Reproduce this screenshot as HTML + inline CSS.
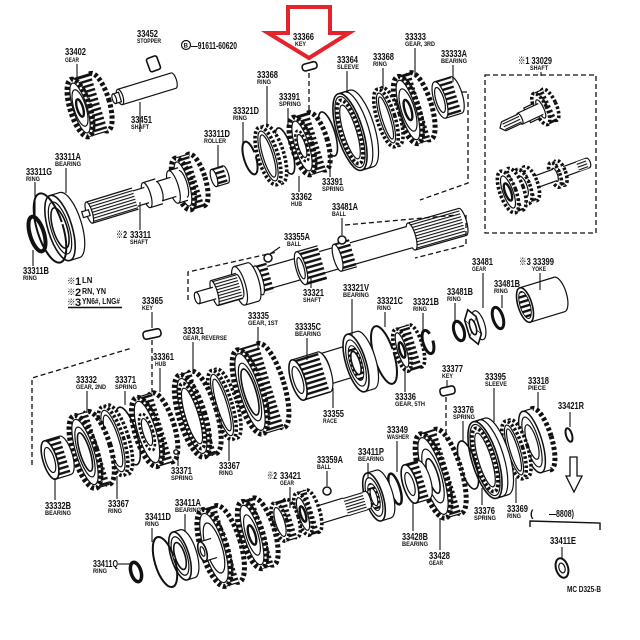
<!DOCTYPE html>
<html><head><meta charset="utf-8">
<style>
html,body{margin:0;padding:0;background:#fff}
svg{display:block}
text{font-family:"Liberation Sans","Noto Sans CJK JP",sans-serif;font-weight:bold;fill:#111}
.n{font-size:10.5px}
.s{font-size:6.8px}
.l{fill:none;stroke:#111;stroke-width:1.2}
.w{fill:#fff;stroke:#111;stroke-width:1.2}
.t{fill:#fff;stroke:#111;stroke-width:5;stroke-dasharray:3.2 2.3}
.t4{fill:#fff;stroke:#111;stroke-width:3.6;stroke-dasharray:2.6 2}
.k{fill:none;stroke:#111;stroke-width:2.4}
.d{fill:none;stroke:#111;stroke-width:1.3;stroke-dasharray:5 3}
.c{fill:url(#tp);stroke:none}
.sp{fill:url(#sp);stroke:none}
.r{fill:none;stroke:#111;stroke-width:2}
.ld{stroke:#111;stroke-width:1.1}
</style></head>
<body>
<svg width="640" height="640" viewBox="0 0 640 640" xmlns="http://www.w3.org/2000/svg">
<defs>
<pattern id="tp" width="8" height="5" patternUnits="userSpaceOnUse"><rect width="8" height="5" fill="#fff"/><rect width="8" height="2.4" fill="#111"/></pattern>
<pattern id="sp" width="8" height="3" patternUnits="userSpaceOnUse"><rect width="8" height="3" fill="#fff"/><rect width="8" height="1.1" fill="#111"/></pattern>
</defs>
<rect width="640" height="640" fill="#fff"/>

<!-- ============ TOP LEFT ============ -->
<g transform="translate(80,108) rotate(-17)"><ellipse cx="20" rx="10" ry="30" class="t"/><rect y="-30" width="20" height="60" class="c"/><path d="M0,-30H20M0,30H20" class="l"/><ellipse rx="10" ry="30" class="t"/><ellipse rx="7" ry="26" class="w"/><ellipse rx="6" ry="19" class="l"/><ellipse rx="3" ry="9" class="k"/></g>
<rect x="148" y="57" width="11" height="14" rx="2" class="w" transform="rotate(-20 153 64)" style="stroke-width:1.6"/>
<g transform="translate(120,97) rotate(-17)"><ellipse cx="56" rx="3" ry="8" class="w"/><rect width="56" y="-8" height="16" fill="#fff"/><path d="M0,-8H56M0,8H56" class="l"/><ellipse rx="3" ry="8" class="w"/><rect x="-6" y="-5" width="6" height="10" class="w"/><ellipse cx="-6" rx="2" ry="5" class="w"/></g>

<g transform="translate(214,178) rotate(-17)"><ellipse cx="12" rx="3" ry="9" class="w"/><rect y="-9" width="12" height="18" class="c"/><path d="M0,-9H12M0,9H12" class="l"/><ellipse rx="3" ry="9" class="w"/></g>
<g transform="translate(183,184) rotate(-17)">
<ellipse cx="14" rx="9" ry="27" class="t"/><rect y="-27" width="14" height="54" class="c"/><path d="M0,-27H14M0,27H14" class="l"/><ellipse rx="9" ry="27" class="t"/><ellipse rx="6" ry="23" class="w"/><ellipse rx="4" ry="14" class="l"/>
<rect x="-10" y="-17" width="10" height="34" fill="#fff"/><path d="M-10,-17H0M-10,17H0" class="l"/><ellipse cx="-10" rx="5" ry="17" class="w"/>
<rect x="-25" y="-10" width="15" height="20" fill="#fff"/><path d="M-25,-10H-10M-25,10H-10" class="l"/><ellipse cx="-25" rx="3" ry="10" class="w"/>
<rect x="-38" y="-13" width="13" height="26" fill="#fff"/><path d="M-38,-13H-25M-38,13H-25" class="l"/><ellipse cx="-38" rx="4" ry="13" class="w"/>
<rect x="-50" y="-8" width="12" height="16" fill="#fff"/><path d="M-50,-8H-38M-50,8H-38" class="l"/>
<rect x="-98" y="-11" width="48" height="22" class="sp"/><path d="M-98,-11H-50M-98,11H-50" class="l"/><ellipse cx="-98" rx="3" ry="11" class="w"/>
<rect x="-105" y="-3" width="7" height="6" class="w"/>
</g>
<g transform="translate(60,228) rotate(-17)"><ellipse cx="10" rx="12" ry="34" class="w"/><rect y="-34" width="10" height="68" fill="#fff"/><path d="M0,-34H10M0,34H10" class="l"/><ellipse rx="12" ry="34" class="w" style="stroke-width:1.6"/><ellipse rx="9" ry="27" class="l"/><ellipse rx="7" ry="21" class="w" style="stroke-width:1.6"/></g>
<ellipse rx="13" ry="36" class="r" style="stroke-dasharray:160 10" transform="translate(50,228) rotate(-17)"/>
<ellipse rx="7" ry="18" class="r" style="stroke-width:4" transform="translate(37,234) rotate(-17)"/>

<!-- ============ TOP ROW ============ -->
<g transform="translate(440,100) rotate(-17)"><ellipse cx="17" rx="6" ry="19" class="w"/><rect y="-19" width="17" height="38" class="c"/><path d="M0,-19H17M0,19H17" class="l"/><ellipse rx="6" ry="19" class="w"/><ellipse rx="4" ry="13" class="l"/></g>
<g transform="translate(408,110) rotate(-17)"><ellipse cx="13" rx="11" ry="35" class="t"/><rect y="-35" width="13" height="70" class="c"/><path d="M0,-35H13M0,35H13" class="l"/><ellipse rx="11" ry="35" class="t"/><ellipse rx="8" ry="31" class="w"/><ellipse rx="6.6" ry="22" class="l"/><ellipse rx="3.3" ry="10.5" class="k"/></g>
<g transform="translate(386,118) rotate(-17)"><ellipse cx="5" rx="9" ry="30" class="t4"/><rect y="-30" width="5" height="60" fill="#fff"/><ellipse rx="9" ry="30" class="t4"/><ellipse rx="6" ry="26" class="w"/><ellipse rx="4" ry="22" class="w"/></g>
<g transform="translate(350,132) rotate(-17)"><ellipse cx="12" rx="13" ry="40" class="w"/><rect y="-40" width="12" height="80" fill="#fff"/><path d="M0,-40H12M0,40H12" class="l"/><ellipse cx="6" rx="13" ry="40" class="l"/><ellipse rx="13" ry="40" class="w" style="stroke-width:1.6"/><ellipse rx="11" ry="37" class="l"/><ellipse rx="9" ry="33" class="t4"/><ellipse rx="6.5" ry="28" class="w"/></g>
<ellipse rx="7" ry="23" class="l" style="stroke-width:1.6" transform="translate(328,134) rotate(-17)"/>
<g transform="translate(302,146) rotate(-17)"><ellipse cx="16" rx="10" ry="30" class="t"/><rect y="-30" width="16" height="60" class="c"/><path d="M0,-30H16M0,30H16" class="l"/><ellipse rx="10" ry="30" class="t"/><ellipse rx="7" ry="26" class="w"/><ellipse rx="5" ry="16" class="t4" style="stroke-width:2.5"/><ellipse rx="3.5" ry="12" class="w"/></g>
<ellipse rx="7" ry="24" class="l" style="stroke-width:1.6" transform="translate(285,151) rotate(-17)"/>
<g transform="translate(268,156) rotate(-17)"><ellipse cx="6" rx="10" ry="30" class="t4"/><rect y="-30" width="6" height="60" fill="#fff"/><ellipse rx="10" ry="30" class="t4"/><ellipse rx="7" ry="26" class="w"/><ellipse rx="5" ry="22" class="w"/></g>
<ellipse rx="6" ry="17" class="r" style="stroke-dasharray:72 8" transform="translate(250,158) rotate(-17)"/>
<rect x="302" y="63" width="15" height="7" rx="3" class="w" transform="rotate(-15 309 66)" style="stroke-width:1.6"/>
<line x1="309" y1="73" x2="309" y2="112" class="d"/>

<!-- ============ MAIN SHAFT ============ -->
<g transform="translate(253,282) rotate(-16)">
<ellipse cx="218" rx="4" ry="14" class="w"/><rect x="165" y="-14" width="53" height="28" class="sp"/><path d="M165,-14H218M165,14H218" class="l"/><ellipse cx="165" rx="4" ry="14" class="w"/>
<rect x="0" y="-11" width="165" height="22" fill="#fff"/><path d="M0,-11H163M0,11H163" class="l"/>
<rect x="88" y="-14" width="16" height="28" class="c"/><path d="M88,-14H104M88,14H104" class="l"/><ellipse cx="88" rx="4" ry="14" class="w"/>
<rect x="50" y="-17" width="22" height="34" class="c"/><path d="M50,-17H72M50,17H72" class="l"/><ellipse cx="50" rx="5" ry="17" class="w"/><ellipse cx="50" rx="3" ry="11" class="l"/>
<rect x="6" y="-15" width="12" height="30" class="c"/><ellipse cx="6" rx="4" ry="15" class="w"/>
<ellipse cx="0" rx="6" ry="20" class="w"/><rect x="-14" y="-20" width="14" height="40" fill="#fff"/><path d="M-14,-20H0M-14,20H0" class="l"/><ellipse cx="-14" rx="6" ry="20" class="w"/><ellipse cx="-14" rx="3" ry="12" class="l"/>
<rect x="-40" y="-13" width="26" height="26" class="sp"/><path d="M-40,-13H-14M-40,13H-14" class="l"/><ellipse cx="-40" rx="3" ry="13" class="w"/>
<rect x="-58" y="-6" width="18" height="12" fill="#fff"/><path d="M-58,-6H-40M-58,6H-40" class="l"/><ellipse cx="-58" rx="2.5" ry="6" class="w"/>
</g>
<circle cx="268" cy="258" r="4" class="w" style="stroke-width:1.5"/>
<circle cx="342" cy="240" r="4" class="w" style="stroke-width:1.5"/>

<path d="M462,92H468V183L420,200" class="d"/>
<path d="M345,225L457,215M466,215V245L415,258" class="d"/>
<path d="M188,300V272L277,252" class="d"/>
<path d="M32,465V378L132,348" class="d"/>
<rect x="485" y="75" width="111" height="158" class="d"/>

<!-- ============ RIGHT BOX ============ -->
<g transform="translate(500,128) rotate(-25)">
<ellipse cx="55" rx="6" ry="17" class="t4"/><rect x="45" y="-17" width="10" height="34" class="c"/><path d="M45,-17H55M45,17H55" class="l"/><ellipse cx="45" rx="6" ry="17" class="t4"/><ellipse cx="45" rx="3" ry="10" class="w"/>
<rect x="30" y="-8" width="10" height="16" class="w"/>
<rect x="22" y="-6" width="23" height="12" fill="#fff"/><path d="M22,-6H45M22,6H45" class="l"/><ellipse cx="22" rx="2" ry="6" class="w"/>
<rect x="4" y="-5" width="18" height="10" class="sp"/><path d="M4,-5H22M4,5H22" class="l"/><path d="M4,-5L0,0L4,5" class="l"/>
</g>
<g transform="translate(508,192) rotate(-20)">
<ellipse cx="85" rx="2.5" ry="5" class="w"/><rect x="56" y="-5" width="29" height="10" fill="#fff"/><path d="M56,-5H85M56,5H85" class="l"/><rect x="74" y="-5" width="10" height="10" class="sp"/>
<ellipse cx="56" rx="5" ry="13" class="t4"/><rect x="50" y="-13" width="6" height="26" class="c"/><ellipse cx="50" rx="5" ry="13" class="t4"/><ellipse cx="50" rx="2.5" ry="7" class="w"/>
<rect x="26" y="-6" width="24" height="12" fill="#fff"/><path d="M26,-6H50M26,6H50" class="l"/>
<ellipse cx="24" rx="7" ry="18" class="t4"/><rect x="16" y="-18" width="8" height="36" class="c"/><ellipse cx="16" rx="7" ry="18" class="t4"/><ellipse cx="16" rx="4" ry="11" class="w"/>
<ellipse cx="8" rx="8" ry="22" class="t4"/><rect x="0" y="-22" width="8" height="44" class="c"/><ellipse rx="8" ry="22" class="t4"/><ellipse rx="5" ry="17" class="w"/><ellipse rx="3" ry="9" class="k"/>
</g>

<!-- ============ RIGHT MIDDLE ============ -->
<g transform="translate(525,305) rotate(-17)"><ellipse cx="36" rx="7" ry="18" class="w"/><rect y="-18" width="36" height="36" fill="#fff"/><path d="M0,-18H36M0,18H36" class="l"/><ellipse rx="7" ry="18" class="w" style="stroke-width:1.6"/><ellipse rx="5" ry="14" class="c" style="stroke:#111;stroke-width:1"/></g>
<ellipse rx="5" ry="11" class="r" style="stroke-width:3" transform="translate(498,318) rotate(-17)"/>
<g transform="translate(473,327) rotate(-17)"><ellipse cx="6" rx="6" ry="15" class="w"/><polygon points="0,-18 6,-9 6,9 0,18 -6,9 -6,-9" class="w" style="stroke-width:1.6"/><path d="M-6,-9L6,9M6,-9L-6,9" class="l" style="stroke-width:0.6"/><ellipse rx="3" ry="8" class="w" style="stroke-width:1.6"/></g>
<ellipse rx="5" ry="10" class="r" style="stroke-width:3" transform="translate(459,331) rotate(-17)"/>

<!-- ============ ROW 2 ============ -->
<ellipse rx="5" ry="12" class="r" style="stroke-width:3;stroke-dasharray:48 9" transform="translate(428,342) rotate(-17)"/>
<g transform="translate(402,350) rotate(-17)"><ellipse cx="14" rx="7" ry="22" class="t4"/><rect y="-22" width="14" height="44" class="c"/><path d="M0,-22H14M0,22H14" class="l"/><ellipse rx="7" ry="22" class="t4"/><ellipse rx="4.5" ry="18" class="w"/><ellipse rx="2.5" ry="8" class="k"/></g>
<ellipse rx="10" ry="30" class="r" style="stroke-dasharray:130 10" transform="translate(384,355) rotate(-17)"/>
<g transform="translate(325,369) rotate(-17)"><ellipse cx="24" rx="5" ry="16" class="w"/><rect y="-16" width="24" height="32" fill="#fff"/><path d="M0,-16H24M0,16H24" class="l"/><ellipse rx="5" ry="16" class="w"/></g>
<g transform="translate(356,363) rotate(-17)"><ellipse cx="10" rx="10" ry="30" class="w"/><rect y="-30" width="10" height="60" fill="#fff"/><path d="M0,-30H10M0,30H10" class="l"/><ellipse rx="10" ry="30" class="w" style="stroke-width:1.6"/><ellipse rx="8" ry="24" class="l"/><ellipse rx="6" ry="18" class="c" style="stroke:#111;stroke-width:1"/><ellipse rx="4" ry="12" class="w" style="stroke-width:1.6"/></g>
<g transform="translate(298,380) rotate(-17)"><ellipse cx="27" rx="7" ry="21" class="w"/><rect y="-21" width="27" height="42" class="c"/><path d="M0,-21H27M0,21H27" class="l"/><ellipse rx="7" ry="21" class="w" style="stroke-width:1.6"/><ellipse rx="4.5" ry="14" class="l"/></g>
<g transform="translate(250,392) rotate(-17)"><ellipse cx="22" rx="13" ry="44" class="t"/><rect y="-44" width="22" height="88" class="c"/><path d="M0,-44H22M0,44H22" class="l"/><ellipse rx="13" ry="44" class="t"/><ellipse rx="10" ry="40" class="w"/><ellipse rx="8" ry="30" class="l"/><ellipse rx="6" ry="24" class="w" style="stroke-width:1.6"/></g>
<g transform="translate(222,405) rotate(-17)"><ellipse cx="5" rx="10" ry="36" class="t4"/><rect y="-36" width="5" height="72" fill="#fff"/><ellipse rx="10" ry="36" class="t4"/><ellipse rx="7" ry="32" class="w"/><ellipse rx="5" ry="27" class="w"/></g>
<g transform="translate(192,416) rotate(-17)"><ellipse cx="12" rx="13" ry="43" class="t"/><rect y="-43" width="12" height="86" class="c"/><path d="M0,-43H12M0,43H12" class="l"/><ellipse rx="13" ry="43" class="t"/><ellipse rx="10" ry="39" class="w"/><ellipse rx="8.5" ry="34" class="t4"/><ellipse rx="6.5" ry="29" class="w"/></g>
<g transform="translate(147,432) rotate(-17)"><ellipse cx="16" rx="12" ry="36" class="t"/><rect y="-36" width="16" height="72" class="c"/><path d="M0,-36H16M0,36H16" class="l"/><ellipse rx="12" ry="36" class="t"/><ellipse rx="9" ry="32" class="w"/><ellipse rx="6" ry="19" class="t4" style="stroke-width:2.6"/><ellipse rx="4" ry="14" class="w"/></g>
<circle cx="176" cy="452" r="2.2" class="w" style="stroke-width:1.4"/>
<ellipse rx="9" ry="30" class="l" style="stroke-width:1.6" transform="translate(128,436) rotate(-17)"/>
<g transform="translate(113,441) rotate(-17)"><ellipse cx="5" rx="11" ry="36" class="t4"/><rect y="-36" width="5" height="72" fill="#fff"/><ellipse rx="11" ry="36" class="t4"/><ellipse rx="8" ry="32" class="w"/><ellipse rx="6" ry="27" class="w"/></g>
<g transform="translate(85,452) rotate(-17)"><ellipse cx="14" rx="12" ry="38" class="t"/><rect y="-38" width="14" height="76" class="c"/><path d="M0,-38H14M0,38H14" class="l"/><ellipse rx="12" ry="38" class="t"/><ellipse rx="9" ry="34" class="w"/><ellipse rx="7" ry="26" class="l"/><ellipse rx="5" ry="20" class="w" style="stroke-width:1.6"/></g>
<g transform="translate(50,460) rotate(-17)"><ellipse cx="16" rx="7" ry="20" class="w"/><rect y="-20" width="16" height="40" class="c"/><path d="M0,-20H16M0,20H16" class="l"/><ellipse rx="7" ry="20" class="w" style="stroke-width:1.6"/><ellipse rx="4.5" ry="13" class="l"/></g>
<rect x="143" y="330" width="18" height="8" rx="3" class="w" transform="rotate(-12 152 334)" style="stroke-width:1.6"/>
<line x1="152" y1="340" x2="152" y2="392" class="d"/>

<!-- ============ RIGHT LOWER ============ -->
<ellipse rx="3" ry="7" class="r" transform="translate(569,435) rotate(-17)"/>
<g transform="translate(532,442) rotate(-17)"><ellipse cx="10" rx="10" ry="32" class="t"/><rect y="-32" width="10" height="64" fill="#fff"/><path d="M0,-32H10M0,32H10" class="l"/><ellipse rx="10" ry="32" class="w" style="stroke-width:1.5"/><ellipse rx="7" ry="26" class="l"/><ellipse rx="5" ry="18" class="w"/></g>
<g transform="translate(514,450) rotate(-17)"><ellipse cx="5" rx="9" ry="30" class="t4"/><rect y="-30" width="5" height="60" fill="#fff"/><ellipse rx="9" ry="30" class="t4"/><ellipse rx="6" ry="26" class="w"/><ellipse rx="4" ry="22" class="w"/></g>
<g transform="translate(485,460) rotate(-17)"><ellipse cx="12" rx="13" ry="40" class="w"/><rect y="-40" width="12" height="80" fill="#fff"/><path d="M0,-40H12M0,40H12" class="l"/><ellipse cx="6" rx="13" ry="40" class="l"/><ellipse rx="13" ry="40" class="w" style="stroke-width:1.6"/><ellipse rx="11" ry="37" class="l"/><ellipse rx="9" ry="33" class="t4"/><ellipse rx="6.5" ry="28" class="w"/></g>
<ellipse rx="8" ry="25" class="l" style="stroke-width:1.6" transform="translate(468,465) rotate(-17)"/>
<g transform="translate(433,476) rotate(-17)"><ellipse cx="16" rx="13" ry="44" class="t"/><rect y="-44" width="16" height="88" class="c"/><path d="M0,-44H16M0,44H16" class="l"/><ellipse rx="13" ry="44" class="t"/><ellipse rx="10" ry="40" class="w"/><ellipse rx="8" ry="28" class="l"/><ellipse rx="5" ry="18" class="w" style="stroke-width:1.6"/></g>
<rect x="440" y="387" width="15" height="8" rx="3" class="w" transform="rotate(-12 447 391)" style="stroke-width:1.6"/>
<line x1="446" y1="397" x2="446" y2="440" class="d"/>

<!-- ============ COUNTERSHAFT ============ -->
<g transform="translate(410,484) rotate(-17)"><ellipse cx="14" rx="7" ry="20" class="w"/><rect y="-20" width="14" height="40" class="c"/><path d="M0,-20H14M0,20H14" class="l"/><ellipse rx="7" ry="20" class="w" style="stroke-width:1.6"/><ellipse rx="4" ry="12" class="l"/></g>
<ellipse rx="5" ry="16" class="r" style="stroke-width:2.5" transform="translate(395,489) rotate(-17)"/>
<g transform="translate(374,497) rotate(-17)"><ellipse cx="10" rx="9" ry="25" class="w"/><rect y="-25" width="10" height="50" fill="#fff"/><path d="M0,-25H10M0,25H10" class="l"/><ellipse rx="9" ry="25" class="w" style="stroke-width:1.6"/><ellipse rx="7" ry="20" class="l"/><ellipse rx="5" ry="14" class="c" style="stroke:#111;stroke-width:1"/><ellipse rx="3" ry="9" class="w"/></g>
<g transform="translate(315,516) rotate(-17)"><ellipse cx="55" rx="3" ry="9" class="w"/><rect y="-9" width="55" height="18" fill="#fff"/><path d="M0,-9H55M0,9H55" class="l"/><rect x="32" y="-10" width="20" height="20" class="sp"/></g>
<g transform="translate(303,514) rotate(-17)"><ellipse cx="10" rx="7" ry="22" class="t4"/><rect y="-22" width="10" height="44" class="c"/><path d="M0,-22H10M0,22H10" class="l"/><ellipse rx="7" ry="22" class="t4"/><ellipse rx="4.5" ry="17" class="w"/><ellipse rx="2.5" ry="8" class="k"/></g>
<g transform="translate(280,522) rotate(-17)"><ellipse cx="12" rx="7" ry="20" class="t4"/><rect y="-20" width="12" height="40" class="c"/><path d="M0,-20H12M0,20H12" class="l"/><ellipse rx="7" ry="20" class="t4"/><ellipse rx="4.5" ry="15" class="w"/></g>
<g transform="translate(252,535) rotate(-17)"><ellipse cx="12" rx="11" ry="35" class="t"/><rect y="-35" width="12" height="70" class="c"/><path d="M0,-35H12M0,35H12" class="l"/><ellipse rx="11" ry="35" class="t"/><ellipse rx="8" ry="31" class="w"/><ellipse rx="6" ry="21" class="l"/><ellipse rx="3.3" ry="10" class="k"/></g>
<g transform="translate(214,548) rotate(-17)"><ellipse cx="14" rx="13" ry="40" class="t"/><rect y="-40" width="14" height="80" class="c"/><path d="M0,-40H14M0,40H14" class="l"/><ellipse rx="13" ry="40" class="t"/><ellipse rx="10" ry="36" class="w"/><ellipse rx="8" ry="26" class="l"/><rect x="-12" y="-10" width="12" height="20" fill="#fff"/><path d="M-12,-10H0M-12,10H0" class="l"/><ellipse cx="-12" rx="4" ry="10" class="w" style="stroke-width:1.6"/><ellipse cx="-12" rx="2" ry="5" class="l"/></g>
<g transform="translate(180,556) rotate(-17)"><ellipse cx="8" rx="9" ry="25" class="w"/><rect y="-25" width="8" height="50" fill="#fff"/><path d="M0,-25H8M0,25H8" class="l"/><ellipse rx="9" ry="25" class="w" style="stroke-width:1.6"/><ellipse rx="7" ry="20" class="l"/><ellipse rx="5" ry="14" class="w" style="stroke-width:1.6"/></g>
<ellipse rx="10" ry="26" class="r" style="stroke-dasharray:115 9" transform="translate(165,562) rotate(-17)"/>
<ellipse rx="5" ry="10" class="r" style="stroke-width:3.5" transform="translate(136,572) rotate(-17)"/>
<g transform="translate(562,568) rotate(-17)"><ellipse rx="6" ry="10" class="w" style="stroke-width:2"/><ellipse rx="3" ry="5" class="l"/></g>

<polygon points="570,457 577,457 577,476 582,476 574,492 566,476 570,476" class="w" style="stroke-width:1.3"/>
<path d="M530,527V521L600,523V530" class="l" style="stroke-width:1.4"/>

<!-- ============ RED ARROW ============ -->
<polygon points="288,7 330,7 330,33 349,33 309,58 268,33 288,33" fill="none" stroke="#e4232b" stroke-width="4" stroke-linejoin="miter"/>

<!-- ============ LEADERS ============ -->
<g class="ld">
<line x1="77" y1="64" x2="77" y2="80"/><line x1="140" y1="132" x2="140" y2="102"/>
<line x1="218" y1="145" x2="218" y2="168"/><line x1="66" y1="168" x2="66" y2="193"/>
<line x1="35" y1="182" x2="35" y2="222"/><line x1="33" y1="266" x2="33" y2="250"/>
<line x1="140" y1="230" x2="140" y2="202"/>
<line x1="347" y1="71" x2="347" y2="93"/><line x1="383" y1="68" x2="383" y2="89"/>
<line x1="415" y1="48" x2="415" y2="76"/><line x1="453" y1="65" x2="453" y2="82"/>
<line x1="267" y1="86" x2="267" y2="127"/><line x1="288" y1="108" x2="288" y2="128"/>
<line x1="243" y1="122" x2="243" y2="146"/><line x1="299" y1="192" x2="299" y2="176"/>
<line x1="330" y1="177" x2="330" y2="158"/><line x1="342" y1="218" x2="342" y2="235"/>
<line x1="280" y1="247" x2="270" y2="254"/><line x1="311" y1="288" x2="311" y2="278"/>
<line x1="352" y1="299" x2="352" y2="335"/><line x1="385" y1="312" x2="385" y2="327"/>
<line x1="423" y1="313" x2="423" y2="332"/><line x1="483" y1="273" x2="483" y2="308"/>
<line x1="455" y1="303" x2="455" y2="322"/><line x1="502" y1="295" x2="502" y2="308"/>
<line x1="540" y1="273" x2="540" y2="290"/><line x1="541" y1="72" x2="541" y2="76"/>
<line x1="152" y1="312" x2="152" y2="328"/><line x1="160" y1="368" x2="160" y2="392"/>
<line x1="193" y1="342" x2="193" y2="372"/><line x1="258" y1="327" x2="258" y2="350"/>
<line x1="307" y1="338" x2="307" y2="360"/><line x1="87" y1="391" x2="87" y2="413"/>
<line x1="125" y1="391" x2="125" y2="405"/><line x1="178" y1="466" x2="178" y2="453"/>
<line x1="117" y1="499" x2="117" y2="476"/><line x1="55" y1="500" x2="55" y2="478"/>
<line x1="229" y1="461" x2="229" y2="440"/><line x1="405" y1="392" x2="405" y2="367"/>
<line x1="333" y1="408" x2="333" y2="388"/><line x1="397" y1="441" x2="397" y2="472"/>
<line x1="447" y1="380" x2="447" y2="386"/><line x1="463" y1="421" x2="463" y2="441"/>
<line x1="494" y1="388" x2="494" y2="422"/><line x1="538" y1="392" x2="538" y2="412"/>
<line x1="570" y1="412" x2="570" y2="427"/><line x1="482" y1="505" x2="482" y2="488"/>
<line x1="516" y1="503" x2="516" y2="478"/><line x1="562" y1="547" x2="562" y2="558"/>
<line x1="440" y1="550" x2="440" y2="518"/><line x1="413" y1="531" x2="413" y2="503"/>
<line x1="368" y1="463" x2="368" y2="478"/><line x1="327" y1="471" x2="327" y2="486"/>
<line x1="290" y1="487" x2="290" y2="508"/><line x1="185" y1="514" x2="185" y2="532"/>
<line x1="152" y1="528" x2="152" y2="542"/><line x1="118" y1="564" x2="130" y2="564"/>
</g>
<circle cx="327" cy="491" r="4" class="w" style="stroke-width:1.5"/>

<!-- ============ LABELS ============ -->
<g>
<text x="65" y="55" class="n" textLength="21" lengthAdjust="spacingAndGlyphs">33402</text><text x="65" y="62" class="s" textLength="14" lengthAdjust="spacingAndGlyphs">GEAR</text>
<text x="137" y="37" class="n" textLength="21" lengthAdjust="spacingAndGlyphs">33452</text><text x="137" y="43" class="s" textLength="24" lengthAdjust="spacingAndGlyphs">STOPPER</text>
<circle cx="186" cy="45" r="4.5" class="l"/><text x="183.6" y="47.5" style="font-size:6px">B</text>
<text x="191" y="49" class="n" textLength="46" lengthAdjust="spacingAndGlyphs">—91611-60620</text>
<text x="131" y="123" class="n" textLength="21" lengthAdjust="spacingAndGlyphs">33451</text><text x="131" y="129" class="s" textLength="18" lengthAdjust="spacingAndGlyphs">SHAFT</text>
<text x="204" y="137" class="n" textLength="26" lengthAdjust="spacingAndGlyphs">33311D</text><text x="204" y="143" class="s" textLength="22" lengthAdjust="spacingAndGlyphs">ROLLER</text>
<text x="55" y="160" class="n" textLength="26" lengthAdjust="spacingAndGlyphs">33311A</text><text x="55" y="166" class="s" textLength="26" lengthAdjust="spacingAndGlyphs">BEARING</text>
<text x="26" y="175" class="n" textLength="26" lengthAdjust="spacingAndGlyphs">33311G</text><text x="26" y="181" class="s" textLength="14" lengthAdjust="spacingAndGlyphs">RING</text>
<text x="116" y="238" class="n" textLength="11" lengthAdjust="spacingAndGlyphs">※2</text>
<text x="130" y="238" class="n" textLength="21" lengthAdjust="spacingAndGlyphs">33311</text><text x="130" y="244" class="s" textLength="18" lengthAdjust="spacingAndGlyphs">SHAFT</text>
<text x="23" y="274" class="n" textLength="26" lengthAdjust="spacingAndGlyphs">33311B</text><text x="23" y="280" class="s" textLength="14" lengthAdjust="spacingAndGlyphs">RING</text>
<text x="67" y="284" style="font-size:8.5px">※</text><text x="75" y="285" style="font-size:11px">1</text><text x="82" y="283" style="font-size:7.8px">LN</text>
<text x="67" y="295" style="font-size:8.5px">※</text><text x="75" y="296" style="font-size:11px">2</text><text x="82" y="294" style="font-size:7.8px" textLength="24" lengthAdjust="spacingAndGlyphs">RN, YN</text>
<text x="67" y="305" style="font-size:8.5px">※</text><text x="75" y="306" style="font-size:11px">3</text><text x="82" y="304" style="font-size:7.8px" textLength="38" lengthAdjust="spacingAndGlyphs">YN6#, LNG#</text>
<line x1="68" y1="307.5" x2="122" y2="307.5" stroke="#111" stroke-width="1.5"/>

<text x="293" y="40" class="n" textLength="21" lengthAdjust="spacingAndGlyphs">33366</text><text x="295" y="46" class="s" textLength="11" lengthAdjust="spacingAndGlyphs">KEY</text>
<text x="337" y="63" class="n" textLength="21" lengthAdjust="spacingAndGlyphs">33364</text><text x="337" y="69" class="s" textLength="22" lengthAdjust="spacingAndGlyphs">SLEEVE</text>
<text x="373" y="60" class="n" textLength="21" lengthAdjust="spacingAndGlyphs">33368</text><text x="373" y="66" class="s" textLength="14" lengthAdjust="spacingAndGlyphs">RING</text>
<text x="405" y="40" class="n" textLength="21" lengthAdjust="spacingAndGlyphs">33333</text><text x="405" y="46" class="s" textLength="30" lengthAdjust="spacingAndGlyphs">GEAR, 3RD</text>
<text x="441" y="57" class="n" textLength="26" lengthAdjust="spacingAndGlyphs">33333A</text><text x="441" y="63" class="s" textLength="26" lengthAdjust="spacingAndGlyphs">BEARING</text>
<text x="257" y="78" class="n" textLength="21" lengthAdjust="spacingAndGlyphs">33368</text><text x="257" y="84" class="s" textLength="14" lengthAdjust="spacingAndGlyphs">RING</text>
<text x="279" y="100" class="n" textLength="21" lengthAdjust="spacingAndGlyphs">33391</text><text x="279" y="106" class="s" textLength="22" lengthAdjust="spacingAndGlyphs">SPRING</text>
<text x="233" y="114" class="n" textLength="26" lengthAdjust="spacingAndGlyphs">33321D</text><text x="233" y="120" class="s" textLength="14" lengthAdjust="spacingAndGlyphs">RING</text>
<text x="291" y="200" class="n" textLength="21" lengthAdjust="spacingAndGlyphs">33362</text><text x="291" y="206" class="s" textLength="11" lengthAdjust="spacingAndGlyphs">HUB</text>
<text x="322" y="185" class="n" textLength="21" lengthAdjust="spacingAndGlyphs">33391</text><text x="322" y="191" class="s" textLength="22" lengthAdjust="spacingAndGlyphs">SPRING</text>
<text x="332" y="210" class="n" textLength="26" lengthAdjust="spacingAndGlyphs">33481A</text><text x="332" y="216" class="s" textLength="14" lengthAdjust="spacingAndGlyphs">BALL</text>
<text x="284" y="240" class="n" textLength="26" lengthAdjust="spacingAndGlyphs">33355A</text><text x="287" y="246" class="s" textLength="14" lengthAdjust="spacingAndGlyphs">BALL</text>
<text x="303" y="296" class="n" textLength="21" lengthAdjust="spacingAndGlyphs">33321</text><text x="303" y="302" class="s" textLength="18" lengthAdjust="spacingAndGlyphs">SHAFT</text>
<text x="343" y="291" class="n" textLength="26" lengthAdjust="spacingAndGlyphs">33321V</text><text x="343" y="297" class="s" textLength="26" lengthAdjust="spacingAndGlyphs">BEARING</text>
<text x="518" y="64" class="n" textLength="34" lengthAdjust="spacingAndGlyphs">※1 33029</text><text x="530" y="70" class="s" textLength="18" lengthAdjust="spacingAndGlyphs">SHAFT</text>
<text x="472" y="265" class="n" textLength="21" lengthAdjust="spacingAndGlyphs">33481</text><text x="472" y="271" class="s" textLength="14" lengthAdjust="spacingAndGlyphs">GEAR</text>
<text x="447" y="295" class="n" textLength="26" lengthAdjust="spacingAndGlyphs">33481B</text><text x="447" y="301" class="s" textLength="14" lengthAdjust="spacingAndGlyphs">RING</text>
<text x="494" y="287" class="n" textLength="26" lengthAdjust="spacingAndGlyphs">33481B</text><text x="494" y="293" class="s" textLength="14" lengthAdjust="spacingAndGlyphs">RING</text>
<text x="519" y="265" class="n" textLength="35" lengthAdjust="spacingAndGlyphs">※3 33399</text><text x="532" y="271" class="s" textLength="14" lengthAdjust="spacingAndGlyphs">YOKE</text>
<text x="377" y="304" class="n" textLength="26" lengthAdjust="spacingAndGlyphs">33321C</text><text x="377" y="310" class="s" textLength="14" lengthAdjust="spacingAndGlyphs">RING</text>
<text x="413" y="305" class="n" textLength="26" lengthAdjust="spacingAndGlyphs">33321B</text><text x="413" y="311" class="s" textLength="14" lengthAdjust="spacingAndGlyphs">RING</text>
<text x="142" y="304" class="n" textLength="21" lengthAdjust="spacingAndGlyphs">33365</text><text x="142" y="310" class="s" textLength="11" lengthAdjust="spacingAndGlyphs">KEY</text>
<text x="153" y="360" class="n" textLength="21" lengthAdjust="spacingAndGlyphs">33361</text><text x="155" y="366" class="s" textLength="11" lengthAdjust="spacingAndGlyphs">HUB</text>
<text x="183" y="334" class="n" textLength="21" lengthAdjust="spacingAndGlyphs">33331</text><text x="183" y="340" class="s" textLength="44" lengthAdjust="spacingAndGlyphs">GEAR, REVERSE</text>
<text x="248" y="319" class="n" textLength="21" lengthAdjust="spacingAndGlyphs">33335</text><text x="248" y="325" class="s" textLength="30" lengthAdjust="spacingAndGlyphs">GEAR, 1ST</text>
<text x="295" y="330" class="n" textLength="26" lengthAdjust="spacingAndGlyphs">33335C</text><text x="295" y="336" class="s" textLength="26" lengthAdjust="spacingAndGlyphs">BEARING</text>
<text x="76" y="383" class="n" textLength="21" lengthAdjust="spacingAndGlyphs">33332</text><text x="76" y="389" class="s" textLength="30" lengthAdjust="spacingAndGlyphs">GEAR, 2ND</text>
<text x="115" y="383" class="n" textLength="21" lengthAdjust="spacingAndGlyphs">33371</text><text x="115" y="389" class="s" textLength="22" lengthAdjust="spacingAndGlyphs">SPRING</text>
<text x="171" y="474" class="n" textLength="21" lengthAdjust="spacingAndGlyphs">33371</text><text x="171" y="480" class="s" textLength="22" lengthAdjust="spacingAndGlyphs">SPRING</text>
<text x="108" y="507" class="n" textLength="21" lengthAdjust="spacingAndGlyphs">33367</text><text x="108" y="513" class="s" textLength="14" lengthAdjust="spacingAndGlyphs">RING</text>
<text x="45" y="509" class="n" textLength="26" lengthAdjust="spacingAndGlyphs">33332B</text><text x="45" y="515" class="s" textLength="26" lengthAdjust="spacingAndGlyphs">BEARING</text>
<text x="219" y="469" class="n" textLength="21" lengthAdjust="spacingAndGlyphs">33367</text><text x="219" y="475" class="s" textLength="14" lengthAdjust="spacingAndGlyphs">RING</text>
<text x="395" y="400" class="n" textLength="21" lengthAdjust="spacingAndGlyphs">33336</text><text x="395" y="406" class="s" textLength="30" lengthAdjust="spacingAndGlyphs">GEAR, 5TH</text>
<text x="323" y="417" class="n" textLength="21" lengthAdjust="spacingAndGlyphs">33355</text><text x="323" y="423" class="s" textLength="14" lengthAdjust="spacingAndGlyphs">RACE</text>
<text x="387" y="433" class="n" textLength="21" lengthAdjust="spacingAndGlyphs">33349</text><text x="387" y="439" class="s" textLength="22" lengthAdjust="spacingAndGlyphs">WASHER</text>
<text x="442" y="372" class="n" textLength="21" lengthAdjust="spacingAndGlyphs">33377</text><text x="442" y="378" class="s" textLength="11" lengthAdjust="spacingAndGlyphs">KEY</text>
<text x="453" y="413" class="n" textLength="21" lengthAdjust="spacingAndGlyphs">33376</text><text x="453" y="419" class="s" textLength="22" lengthAdjust="spacingAndGlyphs">SPRING</text>
<text x="485" y="380" class="n" textLength="21" lengthAdjust="spacingAndGlyphs">33395</text><text x="485" y="386" class="s" textLength="22" lengthAdjust="spacingAndGlyphs">SLEEVE</text>
<text x="528" y="384" class="n" textLength="21" lengthAdjust="spacingAndGlyphs">33318</text><text x="528" y="390" class="s" textLength="18" lengthAdjust="spacingAndGlyphs">PIECE</text>
<text x="558" y="409" class="n" textLength="26" lengthAdjust="spacingAndGlyphs">33421R</text>
<text x="474" y="514" class="n" textLength="21" lengthAdjust="spacingAndGlyphs">33376</text><text x="474" y="520" class="s" textLength="22" lengthAdjust="spacingAndGlyphs">SPRING</text>
<text x="507" y="512" class="n" textLength="21" lengthAdjust="spacingAndGlyphs">33369</text><text x="507" y="518" class="s" textLength="14" lengthAdjust="spacingAndGlyphs">RING</text>
<text x="530" y="517" class="n">(</text><text x="549" y="517" class="n" textLength="25" lengthAdjust="spacingAndGlyphs">—8808)</text>
<text x="550" y="544" class="n" textLength="26" lengthAdjust="spacingAndGlyphs">33411E</text>
<text x="567" y="592" class="n" style="font-size:8.5px" textLength="34" lengthAdjust="spacingAndGlyphs">MC D325-B</text>
<text x="429" y="559" class="n" textLength="21" lengthAdjust="spacingAndGlyphs">33428</text><text x="429" y="565" class="s" textLength="14" lengthAdjust="spacingAndGlyphs">GEAR</text>
<text x="402" y="540" class="n" textLength="26" lengthAdjust="spacingAndGlyphs">33428B</text><text x="402" y="546" class="s" textLength="26" lengthAdjust="spacingAndGlyphs">BEARING</text>
<text x="358" y="455" class="n" textLength="26" lengthAdjust="spacingAndGlyphs">33411P</text><text x="358" y="461" class="s" textLength="26" lengthAdjust="spacingAndGlyphs">BEARING</text>
<text x="317" y="463" class="n" textLength="26" lengthAdjust="spacingAndGlyphs">33359A</text><text x="317" y="469" class="s" textLength="14" lengthAdjust="spacingAndGlyphs">BALL</text>
<text x="267" y="479" class="n" textLength="10" lengthAdjust="spacingAndGlyphs">※2</text>
<text x="280" y="479" class="n" textLength="21" lengthAdjust="spacingAndGlyphs">33421</text><text x="280" y="485" class="s" textLength="14" lengthAdjust="spacingAndGlyphs">GEAR</text>
<text x="175" y="506" class="n" textLength="26" lengthAdjust="spacingAndGlyphs">33411A</text><text x="175" y="512" class="s" textLength="26" lengthAdjust="spacingAndGlyphs">BEARING</text>
<text x="145" y="520" class="n" textLength="26" lengthAdjust="spacingAndGlyphs">33411D</text><text x="145" y="526" class="s" textLength="14" lengthAdjust="spacingAndGlyphs">RING</text>
<text x="93" y="567" class="n" textLength="25" lengthAdjust="spacingAndGlyphs">33411Q</text><text x="93" y="573" class="s" textLength="14" lengthAdjust="spacingAndGlyphs">RING</text>
</g>
</svg>
</body></html>
